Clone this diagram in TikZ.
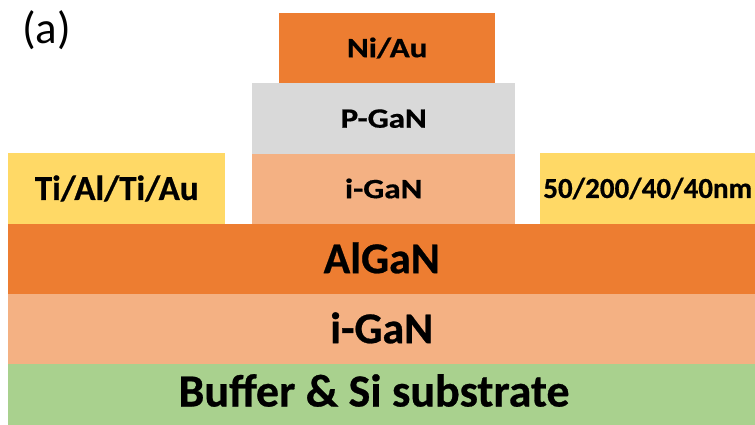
\documentclass[tikz,border=0pt]{standalone}
\usepackage{fontspec}
\setmainfont{Carlito}[BoldFeatures={FakeBold=0.6}]
\usepackage{graphicx}
\definecolor{accOrange}{HTML}{ED7D31}
\definecolor{lightOrange}{HTML}{F4B183}
\definecolor{lightGrey}{HTML}{D9D9D9}
\definecolor{goldYellow}{HTML}{FFD966}
\definecolor{leafGreen}{HTML}{A9D18E}
\begin{document}
\begin{tikzpicture}[x=1pt,y=-1pt,
  layer/.style={draw=none, inner sep=0pt, anchor=north west, align=center},
  bigtext/.style={font=\fontsize{44}{48}\selectfont\bfseries, text height=28pt, text depth=0pt},
  toptext/.style={font=\fontsize{28}{32}\selectfont\bfseries, text height=18pt, text depth=0pt},
  contacttext/.style={font=\fontsize{35}{40}\selectfont\bfseries, text height=22.5pt, text depth=0pt},
  thicktext/.style={font=\fontsize{29}{33}\selectfont\bfseries, text height=18.5pt, text depth=0pt}]
\useasboundingbox (0,0) rectangle (755,425);
% bottom stack
\node[layer, fill=leafGreen, minimum width=747pt, minimum height=61pt] (sub) at (8,364) {};
\node[anchor=base, inner sep=0pt, font=\fontsize{46}{50}\selectfont\bfseries] (subtxt) at (374,406.5) {Buffer \& Si substrate};
\node[layer, bigtext, fill=lightOrange, minimum width=747pt, minimum height=70pt] (igan) at (8,294) {i-GaN};
\node[layer, bigtext, fill=accOrange, minimum width=747pt, minimum height=70pt] (algan) at (8,224) {AlGaN};
% contacts
\node[layer, contacttext, fill=goldYellow, minimum width=217pt, minimum height=71pt] (src) at (8,153) {Ti/Al/Ti/Au};
\node[layer, thicktext, fill=goldYellow, minimum width=215pt, minimum height=71pt] (drn) at (540,153) {50/200/40/40nm};
% gate stack
\node[layer, toptext, fill=lightOrange, minimum width=263pt, minimum height=70pt] (gigan) at (252,154) {\scalebox{1.18}[1]{i-GaN}};
\node[layer, toptext, fill=lightGrey, minimum width=263pt, minimum height=71pt] (pgan) at (252,83) {\scalebox{1.18}[1]{P-GaN}};
\node[layer, toptext, fill=accOrange, minimum width=216pt, minimum height=70pt] (niau) at (279,13) {\scalebox{1.18}[1]{Ni/Au}};
% label
\node[anchor=base west, inner sep=0pt, font=\fontsize{45}{49}\selectfont] (lbl) at (22,44) {(a)};
\end{tikzpicture}
\end{document}
